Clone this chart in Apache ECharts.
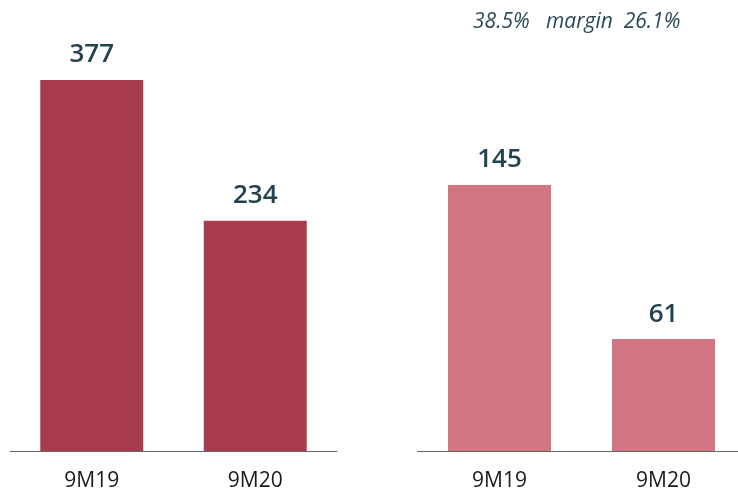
<!DOCTYPE html>
<html>
<head>
<meta charset="utf-8">
<script src="https://cdn.jsdelivr.net/npm/echarts@6/dist/echarts.min.js"></script>
<style>
  html, body { margin: 0; padding: 0; background: #fff; }
  #main { width: 738px; height: 491px; }
</style>
</head>
<body>
<div id="main"></div>
<script>
const categories = ['9M19', '9M20'];
const revenueValues = [377, 234];
const ebitdaValues = [145, 61];
const marginLabels = ['38.5%', 'margin', '26.1%'];

const labelColor = '#22434f';

const chart = echarts.init(document.getElementById('main'));

const barLabel = {
  show: true,
  position: 'top',
  distance: 12,
  color: labelColor,
  fontFamily: 'Open Sans',
  fontWeight: 600,
  fontSize: 26
};

const xAxisBase = {
  type: 'category',
  data: categories,
  axisTick: { show: false },
  axisLine: { lineStyle: { color: '#666', width: 1 } },
  axisLabel: { color: '#1a1a1a', fontFamily: 'Open Sans', fontSize: 21, margin: 20 }
};

const option = {
  animation: false,
  backgroundColor: '#fff',
  grid: [
    { left: 10, width: 327, top: 0, bottom: 40, outerBoundsMode: 'none' },
    { left: 417.5, width: 328, top: 0, bottom: 40, outerBoundsMode: 'none' }
  ],
  xAxis: [
    Object.assign({ gridIndex: 0 }, xAxisBase),
    Object.assign({ gridIndex: 1 }, xAxisBase)
  ],
  yAxis: [
    { gridIndex: 0, type: 'value', min: 0, max: 458.3, show: false },
    { gridIndex: 1, type: 'value', min: 0, max: 245.9, show: false }
  ],
  graphic: [{
    type: 'text',
    left: 473,
    top: 12,
    style: {
      text: marginLabels[0] + '   ' + marginLabels[1] + '  ' + marginLabels[2],
      fill: '#2a4a58',
      font: 'italic 21px "Open Sans"'
    }
  }],
  series: [
    {
      type: 'bar',
      xAxisIndex: 0,
      yAxisIndex: 0,
      data: revenueValues,
      barWidth: 103,
      itemStyle: { color: '#a83c4e' },
      label: barLabel
    },
    {
      type: 'bar',
      xAxisIndex: 1,
      yAxisIndex: 1,
      data: ebitdaValues,
      barWidth: 103,
      itemStyle: { color: '#d27683' },
      label: barLabel
    }
  ]
};

chart.setOption(option);
</script>
</body>
</html>
